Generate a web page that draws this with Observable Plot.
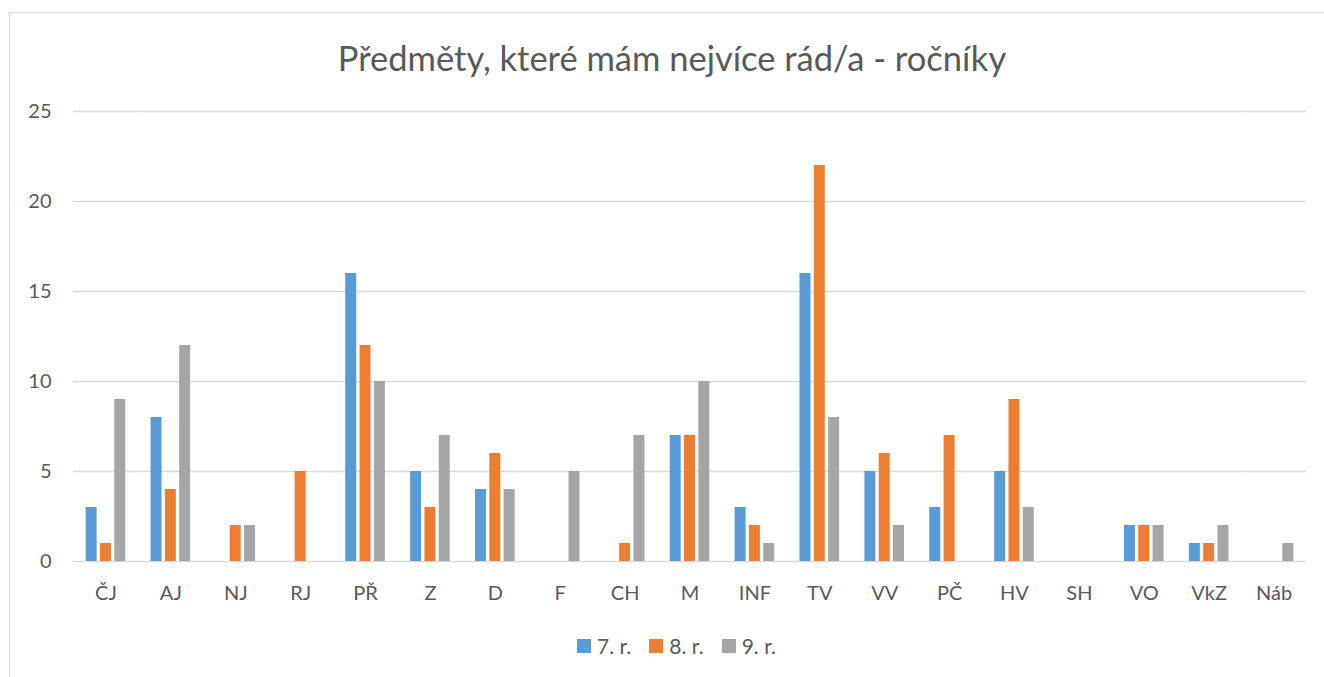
<!DOCTYPE html>
<html><head><meta charset="utf-8">
<script src="https://cdn.jsdelivr.net/npm/d3@7"></script>
<script src="https://cdn.jsdelivr.net/npm/@observablehq/plot@0.6"></script>
<style>
body{margin:0;background:#fff;font-family:Lato,"Open Sans",sans-serif;color:#595959;width:1324px;height:677px;overflow:hidden;position:relative;}
#frame{position:absolute;left:9px;top:12px;width:1400px;height:700px;border-left:1.5px solid #d9d9d9;border-top:1.5px solid #d9d9d9;}
#title{position:absolute;left:0;width:1324px;top:39px;text-align:center;font-size:34.5px;line-height:38px;color:#595959;padding-left:20px;box-sizing:border-box;}
#chart{position:absolute;left:0;top:95px;}
#legend{position:absolute;left:0;width:1324px;top:634px;display:flex;justify-content:center;font-size:21px;line-height:24px;padding-left:29px;box-sizing:border-box;}
.item{display:flex;align-items:center;margin:0 9px;}
.sw{width:14px;height:14px;margin-right:6px;}
</style></head>
<body>
<div id="frame"></div>
<div id="title">Předměty, které mám nejvíce rád/a - ročníky</div>
<div id="chart"></div>
<div id="legend"></div>
<script>
const subjects = ["ČJ","AJ","NJ","RJ","PŘ","Z","D","F","CH","M","INF","TV","VV","PČ","HV","SH","VO","VkZ","Náb"];
const grades = ["7. r.","8. r.","9. r."];
const colors = ["#5B9BD5","#ED7D31","#A5A5A5"];
const g7 = [3,8,0,0,16,5,4,0,0,7,3,16,5,3,5,0,2,1,0];
const g8 = [1,4,2,5,12,3,6,0,1,7,2,22,6,7,9,0,2,1,0];
const g9 = [9,12,2,0,10,7,4,5,7,10,1,8,2,0,3,0,2,2,1];
const yTicks = [0,5,10,15,20,25];

const series = [g7,g8,g9];
const data = [];
subjects.forEach((s,i)=>grades.forEach((g,j)=>data.push({subject:s,grade:g,value:series[j][i]})));

const chart = Plot.plot({
  width:1324, height:520,
  marginLeft:73, marginRight:18, marginTop:16, marginBottom:54,
  style:{fontFamily:"Lato, 'Open Sans', sans-serif", fontSize:"20px", color:"#595959", background:"transparent"},
  fx:{domain:subjects, padding:0, round:false, label:null},
  x:{domain:grades, paddingInner:0.233, paddingOuter:0.884, round:false, axis:null},
  y:{domain:[0,25], ticks:yTicks, label:null},
  color:{domain:grades, range:colors},
  marks:[
    Plot.gridY(yTicks,{stroke:"#d9d9d9", strokeOpacity:1, strokeWidth:1.5}),
    Plot.axisY(yTicks,{tickSize:0, tickPadding:22, fontSize:20, label:null, fill:"#595959"}),
    Plot.axisFx({anchor:"bottom", tickSize:0, tickPadding:24, fontSize:20, label:null, fill:"#595959"}),
    Plot.barY(data,{fx:"subject", x:"grade", y:"value", fill:"grade"})
  ]
});
document.getElementById("chart").appendChild(chart);

const leg = document.getElementById("legend");
grades.forEach((g,j)=>{
  const it=document.createElement("div");it.className="item";
  const sw=document.createElement("div");sw.className="sw";sw.style.background=colors[j];
  const t=document.createElement("span");t.textContent=g;
  it.appendChild(sw);it.appendChild(t);leg.appendChild(it);
});
</script>
</body></html>
